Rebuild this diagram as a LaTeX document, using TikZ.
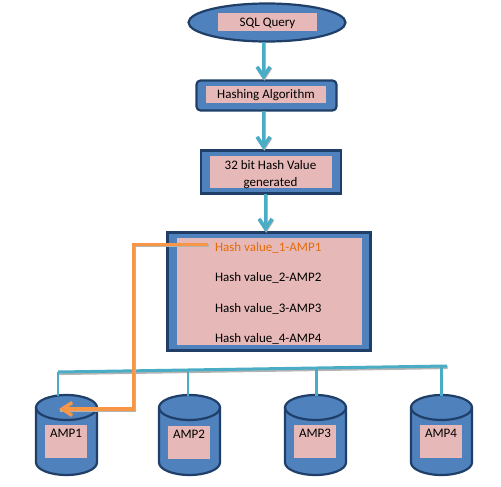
\documentclass[tikz,border=0pt]{standalone}
\usepackage{fontspec}
\setmainfont{Carlito}
\usetikzlibrary{arrows.meta,shapes.geometric}
\definecolor{fillblue}{HTML}{4F81BD}
\definecolor{edgeblue}{HTML}{1F3F68}
\definecolor{pinkish}{HTML}{E6B9B8}
\definecolor{tealc}{HTML}{4BACC6}
\definecolor{orangec}{HTML}{F79646}
\definecolor{orangetxt}{HTML}{E46C0A}
\definecolor{shadowc}{HTML}{B4B4B4}
\tikzset{
  x=1pt,y=-1pt,
  every node/.style={font=\fontsize{13}{15}\selectfont,text=black,inner sep=0pt,outer sep=0pt},
  blueshape/.style={draw=edgeblue,fill=fillblue,line width=2.2pt},
  pinklabel/.style={fill=pinkish,anchor=north west},
  amp/.style={minimum width=61pt,minimum height=80pt},
  barbtip/.style={-{Straight Barb[length=10pt,width=13pt,line width=3.5pt]}},
  flowarrow/.style={draw=tealc,line width=3.5pt,barbtip},
  flowshadow/.style={draw=shadowc,line width=3.5pt,barbtip,transform canvas={shift={(0.8pt,-0.8pt)}}},
  busline/.style={draw=tealc,line width=3pt},
  busshadow/.style={draw=shadowc,line width=3pt,transform canvas={shift={(0.6pt,-1.6pt)}}},
  droplink/.style={draw=tealc,line width=2.6pt},
  hashtxt/.style={anchor=west},
  orangeline/.style={draw=orangec,line width=3.5pt,line join=miter},
  orangeshadow/.style={draw=shadowc,line width=3.5pt,transform canvas={shift={(1pt,-1pt)}}},
}
\begin{document}
\begin{tikzpicture}
\useasboundingbox (0,0) rectangle (501,487);
% top shapes
\node[blueshape,ellipse,minimum width=157pt,minimum height=38pt] (query) at (267,22.5) {};
\node[pinklabel,minimum width=99pt,minimum height=18pt] (querybg) at (218,13) {};
\node (querytxt) at (267.5,23) {SQL Query};
\node[blueshape,rounded corners=4pt,minimum width=140pt,minimum height=30pt] (hash) at (266.5,95.5) {};
\node[pinklabel,minimum width=120pt,minimum height=17pt] (hashbg) at (206,86) {};
\node (hashtxt) at (266,95.5) {Hashing Algorithm};
\node[blueshape,minimum width=140pt,minimum height=43pt] (value) at (271,172) {};
\node[pinklabel,minimum width=122pt,minimum height=32pt] (valuebg) at (210,156) {};
\begin{scope}
\clip (210,156) rectangle (332,188);
\node (valuea) at (270.5,165.5) {32 bit Hash Value};
\node (valueb) at (270.5,183.5) {generated};
\end{scope}
% table box
\node[blueshape,minimum width=203pt,minimum height=118pt] (table) at (269,291.5) {};
\node[pinklabel,minimum width=185pt,minimum height=107pt] (tablebg) at (177,238) {};
\node[hashtxt,text=orangetxt] (h1) at (215,247.5) {Hash value\_1-AMP1};
\node[hashtxt] (h2) at (215,278) {Hash value\_2-AMP2};
\node[hashtxt] (h3) at (215,309) {Hash value\_3-AMP3};
\node[hashtxt] (h4) at (215,339) {Hash value\_4-AMP4};
% cylinders
\node[amp] (amp1) at (66.5,435) {};
\node[amp] (amp2) at (189.5,435) {};
\node[amp] (amp3) at (315.5,435) {};
\node[amp] (amp4) at (441.5,435) {};
\foreach \nm in {amp1,amp2,amp3,amp4}{
  \begin{scope}[shift={(\nm.center)}]
  \draw[blueshape] (-30.5,-27.5) -- (-30.5,27.5) .. controls (-30.5,34.4) and (-16.8,40) .. (0,40)
    .. controls (16.8,40) and (30.5,34.4) .. (30.5,27.5) -- (30.5,-27.5)
    .. controls (30.5,-34.4) and (16.8,-40) .. (0,-40)
    .. controls (-16.8,-40) and (-30.5,-34.4) .. (-30.5,-27.5) -- cycle;
  \draw[blueshape,fill=none] (-30.5,-27.5) .. controls (-30.5,-20.6) and (-16.8,-15) .. (0,-15)
    .. controls (16.8,-15) and (30.5,-20.6) .. (30.5,-27.5);
  \end{scope}
}
\foreach \nm/\lx/\ly/\txt in {a/45/425/AMP1,b/168/426/AMP2,c/294/425/AMP3,d/420/425/AMP4}{
  \node[pinklabel,minimum width=42pt,minimum height=33pt] (lab\nm) at (\lx,\ly) {};
  \node[anchor=north] (txt\nm) at (\lx+21,\ly+4.5) {\txt};
}
% flow arrows
\coordinate (q1) at (263.5,42);
\coordinate (q2) at (263.5,80);
\coordinate (q3) at (263.5,111);
\coordinate (q4) at (263.5,150);
\coordinate (q5) at (265.5,194);
\coordinate (q6) at (265.5,232);
\foreach \s/\e in {q1/q2,q3/q4,q5/q6}{
  \draw[flowshadow] (\s) -- (\e);
  \draw[flowarrow] (\s) -- (\e);
}
% bus
\coordinate (busl) at (58,372);
\coordinate (busr) at (447,366);
\coordinate (bus2) at (188,370);
\coordinate (bus3) at (316.5,368);
\coordinate (bus4) at (441.5,366);
\draw[busshadow] (busl) -- (busr);
\draw[droplink] (busl) -- (58,395.5);
\draw[droplink] (bus2) -- (188,395.5);
\draw[droplink] (bus3) -- (316.5,395.5);
\draw[droplink] (bus4) -- (441.5,395.5);
\draw[busline] (busl) -- (busr);
% orange route
\coordinate (o1) at (208,244.5);
\coordinate (o2) at (133.5,244.5);
\coordinate (o3) at (133.5,409);
\coordinate (o4) at (59,409);
\draw[orangeshadow] (o1) -- (o2) -- (o3) -- (o4);
\draw[orangeline,barbtip] (o1) -- (o2) -- (o3) -- (o4);
\end{tikzpicture}
\end{document}
